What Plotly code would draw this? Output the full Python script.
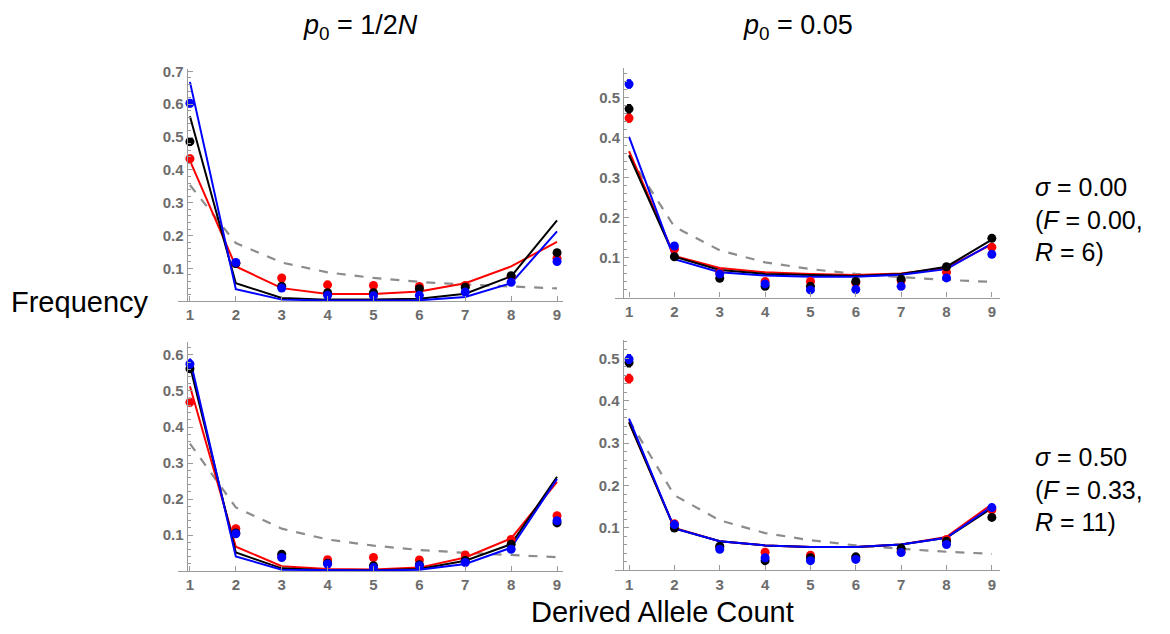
import plotly.graph_objects as go

# ---------------- data ----------------
counts = [1, 2, 3, 4, 5, 6, 7, 8, 9]
x_tick_labels = ["1", "2", "3", "4", "5", "6", "7", "8", "9"]

# neutral expectation (gray dashed)
neutral = [0.354, 0.177, 0.118, 0.088, 0.071, 0.059, 0.051, 0.044, 0.039]

# top-left: p0 = 1/2N, sigma = 0.00
tl_line_red = [0.428, 0.106, 0.040, 0.022, 0.022, 0.030, 0.055, 0.106, 0.181]
tl_line_black = [0.563, 0.055, 0.010, 0.005, 0.005, 0.008, 0.023, 0.076, 0.246]
tl_line_blue = [0.668, 0.037, 0.005, 0.002, 0.002, 0.003, 0.013, 0.055, 0.213]
tl_pt_red = [0.434, 0.115, 0.071, 0.050, 0.048, 0.045, 0.048, 0.075, 0.131]
tl_pt_black = [0.486, 0.115, 0.046, 0.026, 0.026, 0.038, 0.043, 0.078, 0.148]
tl_pt_blue = [0.603, 0.118, 0.040, 0.018, 0.017, 0.018, 0.028, 0.058, 0.121]

# top-right: p0 = 0.05, sigma = 0.00
tr_line_red = [0.366, 0.104, 0.074, 0.063, 0.059, 0.056, 0.060, 0.074, 0.133]
tr_line_black = [0.356, 0.102, 0.069, 0.059, 0.056, 0.054, 0.059, 0.077, 0.145]
tr_line_blue = [0.402, 0.096, 0.063, 0.055, 0.052, 0.052, 0.057, 0.071, 0.135]
tr_pt_red = [0.449, 0.121, 0.062, 0.040, 0.040, 0.037, 0.042, 0.063, 0.126]
tr_pt_black = [0.472, 0.102, 0.048, 0.028, 0.028, 0.040, 0.046, 0.077, 0.148]
tr_pt_blue = [0.534, 0.129, 0.059, 0.034, 0.019, 0.020, 0.028, 0.049, 0.108]

# bottom-left: p0 = 1/2N, sigma = 0.50
bl_line_red = [0.513, 0.068, 0.014, 0.006, 0.005, 0.010, 0.038, 0.091, 0.248]
bl_line_black = [0.570, 0.052, 0.008, 0.003, 0.003, 0.006, 0.029, 0.075, 0.262]
bl_line_blue = [0.590, 0.041, 0.004, 0.002, 0.002, 0.004, 0.020, 0.065, 0.256]
bl_pt_red = [0.469, 0.118, 0.040, 0.032, 0.038, 0.031, 0.045, 0.088, 0.154]
bl_pt_black = [0.562, 0.106, 0.047, 0.022, 0.015, 0.018, 0.030, 0.075, 0.134]
bl_pt_blue = [0.575, 0.104, 0.038, 0.020, 0.010, 0.015, 0.024, 0.061, 0.140]

# bottom-right: p0 = 0.05, sigma = 0.50
br_line_red = [0.349, 0.100, 0.069, 0.059, 0.055, 0.055, 0.061, 0.079, 0.156]
br_line_black = [0.349, 0.099, 0.069, 0.059, 0.055, 0.055, 0.061, 0.077, 0.147]
br_line_blue = [0.358, 0.099, 0.069, 0.059, 0.055, 0.055, 0.061, 0.077, 0.151]
br_pt_red = [0.452, 0.110, 0.055, 0.043, 0.036, 0.030, 0.046, 0.073, 0.143]
br_pt_black = [0.490, 0.100, 0.057, 0.023, 0.030, 0.032, 0.052, 0.069, 0.125]
br_pt_blue = [0.498, 0.108, 0.050, 0.030, 0.023, 0.026, 0.042, 0.061, 0.148]

# error bar half-widths (small)
err_small = [0.010, 0.004, 0.003, 0.003, 0.003, 0.003, 0.003, 0.004, 0.005]

col_titles = ["<i>p</i><sub>0</sub> = 1/2<i>N</i>", "<i>p</i><sub>0</sub> = 0.05"]
row_labels = ["<i>σ</i> = 0.00<br>(<i>F</i> = 0.00,<br><i>R</i> = 6)",
              "<i>σ</i> = 0.50<br>(<i>F</i> = 0.33,<br><i>R</i> = 11)"]

# ---------------- layout helpers ----------------
# page body has an 8px default margin -> figure sized to fit the 1170x634 window
OFF = 8
W, H = 1170 - OFF, 634 - OFF
RED, BLACK, BLUE, GRAY = "#ff0000", "#000000", "#0000ff", "#8c8c8c"


def px_x(px):
    return (px - OFF) / W


def px_y(py):
    return 1 - (py - OFF) / H


panels = [
    dict(lines=(tl_line_red, tl_line_black, tl_line_blue),
         pts=(tl_pt_red, tl_pt_black, tl_pt_blue),
         px=(178, 563), py=(63, 297.5), xr=(0.74, 9.13), yr=(0, 0.706), yax=186.7,
         yt=[0.1, 0.2, 0.3, 0.4, 0.5, 0.6, 0.7]),
    dict(lines=(tr_line_red, tr_line_black, tr_line_blue),
         pts=(tr_pt_red, tr_pt_black, tr_pt_blue),
         px=(615, 1000), py=(61.7, 293.7), xr=(0.69, 9.18), yr=(0, 0.574), yax=623.3,
         yt=[0.1, 0.2, 0.3, 0.4, 0.5]),
    dict(lines=(bl_line_red, bl_line_black, bl_line_blue),
         pts=(bl_pt_red, bl_pt_black, bl_pt_blue),
         px=(178, 563), py=(338.3, 570.5), xr=(0.74, 9.13), yr=(0, 0.637), yax=186.7,
         yt=[0.1, 0.2, 0.3, 0.4, 0.5, 0.6]),
    dict(lines=(br_line_red, br_line_black, br_line_blue),
         pts=(br_pt_red, br_pt_black, br_pt_blue),
         px=(615, 1000), py=(336.7, 569.7), xr=(0.69, 9.18), yr=(0, 0.543), yax=622.7,
         yt=[0.1, 0.2, 0.3, 0.4, 0.5]),
]

fig = go.Figure()
layout = {}
tickfont = dict(family="Liberation Sans, Arial, sans-serif", size=15, color="#6c6c6c")
axcol = "#9a9a9a"

for i, p in enumerate(panels, start=1):
    xa, ya = f"x{i}", f"y{i}"
    fig.add_trace(go.Scatter(x=counts, y=neutral, mode="lines", xaxis=xa, yaxis=ya,
                             line=dict(color=GRAY, width=2.2, dash="dash"), showlegend=False,
                             hoverinfo="skip"))
    for vals, c in zip(p["lines"], (RED, BLACK, BLUE)):
        fig.add_trace(go.Scatter(x=counts, y=vals, mode="lines", xaxis=xa, yaxis=ya,
                                 line=dict(color=c, width=2), showlegend=False))
    for vals, c in zip(p["pts"], (RED, BLACK, BLUE)):
        fig.add_trace(go.Scatter(x=counts, y=vals, mode="markers", xaxis=xa, yaxis=ya,
                                 marker=dict(color=c, size=9),
                                 error_y=dict(type="data", array=err_small, color=c,
                                              thickness=1.5, width=2),
                                 showlegend=False))
    ytop, ybot = px_y(p["py"][0]), px_y(p["py"][1])
    layout[f"xaxis{i}"] = dict(domain=[px_x(p["px"][0]), px_x(p["px"][1])], anchor=ya,
                               range=list(p["xr"]),
                               tickvals=counts, ticktext=[f"<b>{t}</b>" for t in x_tick_labels],
                               showline=True, linecolor=axcol, linewidth=1.3,
                               ticks="inside", ticklen=5, tickcolor=axcol, tickwidth=1.2,
                               showgrid=False, zeroline=False, tickfont=tickfont)
    layout[f"yaxis{i}"] = dict(domain=[ybot, ytop], anchor="free", position=px_x(p["yax"]),
                               range=list(p["yr"]), tickvals=p["yt"],
                               ticktext=[f"<b>{v:.1f}</b>" for v in p["yt"]],
                               showline=True, linecolor=axcol, linewidth=1.3,
                               ticks="inside", ticklen=5, tickcolor=axcol, tickwidth=1.2,
                               minor=dict(dtick=0.02, ticks="inside", ticklen=3,
                                          tickcolor=axcol, tickwidth=1),
                               showgrid=False, zeroline=False, tickfont=tickfont)

big = dict(family="Liberation Sans, Arial, sans-serif", color="black")
annotations = [
    dict(text=col_titles[0], x=px_x(360), y=px_y(20), font=dict(size=27, **big)),
    dict(text=col_titles[1], x=px_x(798), y=px_y(20), font=dict(size=27, **big)),
    dict(text="Frequency", x=px_x(80), y=px_y(298), font=dict(size=29, **big)),
    dict(text="Derived Allele Count", x=px_x(662), y=px_y(612), font=dict(size=29, **big)),
    dict(text=row_labels[0], x=px_x(1033), y=px_y(215), xanchor="left", align="left",
         font=dict(size=25, **big)),
    dict(text=row_labels[1], x=px_x(1033), y=px_y(488), xanchor="left", align="left",
         font=dict(size=25, **big)),
]
for a in annotations:
    a.update(xref="paper", yref="paper", showarrow=False)
    a.setdefault("xanchor", "center")
    a.setdefault("yanchor", "middle")

fig.update_layout(width=W, height=H, margin=dict(l=0, r=0, t=0, b=0),
                  paper_bgcolor="white", plot_bgcolor="white",
                  annotations=annotations, showlegend=False, **layout)

fig.write_html("out.html")
